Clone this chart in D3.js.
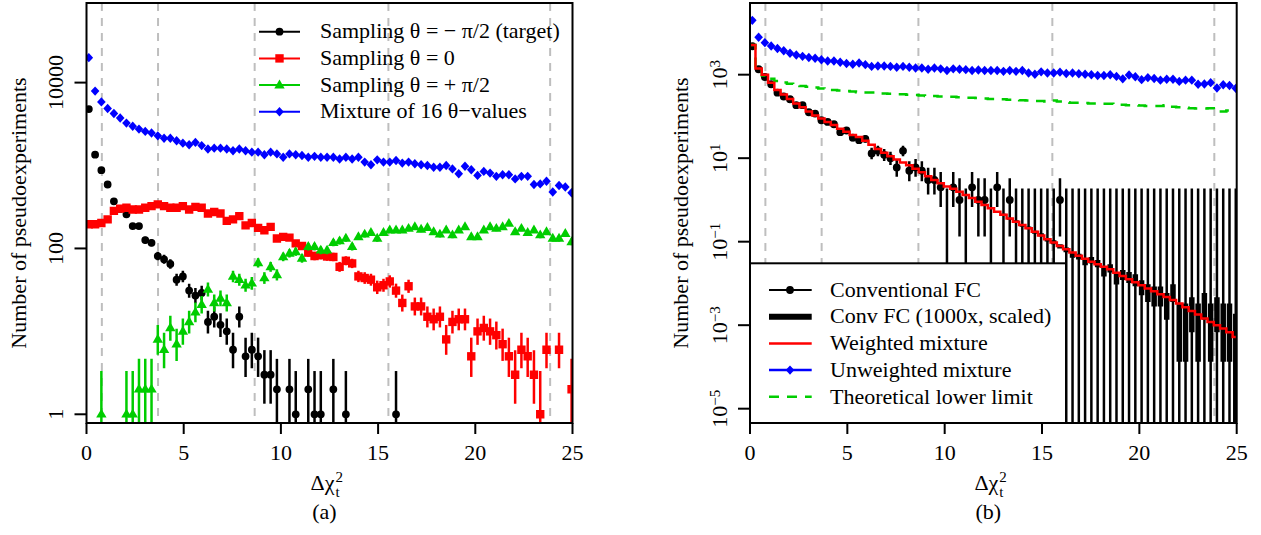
<!DOCTYPE html>
<html>
<head>
<meta charset="utf-8">
<script src="https://cdn.jsdelivr.net/npm/d3@7"></script>
<style>
body { margin: 0; background: #fff; }
svg text { font-family: "Liberation Serif", Tinos, "Times New Roman", Times, "DejaVu Serif", serif; font-size: 22px; fill: #000; }
</style>
</head>
<body>
<figure style="margin:0"></figure>
<script>
// bins of delta chi^2 (same binning in both panels)
const binWidth = 0.3225, firstCenter = 0.12, nBins = 78
const binCenters = d3.range(nBins).map(k => firstCenter + k * binWidth)
const xTicks = [0, 5, 10, 15, 20, 25]
const criticalLines = [0.79, 3.68, 8.65, 15.53, 23.85]
const leftYTicks = [1, 100, 10000]
const rightYExponents = [-5, -3, -1, 1, 3]

// (a) counts per bin
const targetCounts = [4800,1350,880,590,370,300,258,186,186,126,
    117,81,74,65,42,46,31,27,29,13,
    15,12,10,6,15,5,6,5,3,3,
    2,0,2,1,0,2,1,1,0,2,
    0,1,0,0,0,0,0,0,0,1,
    0,0,0,0,0,0,0,0,0,0,
    0,0,0,0,0,0,0,0,0,0,
    0,0,0,0,0,0,0,0]
const zeroCounts = [196,196,203,224,284,302,310,295,295,310,
    324,340,324,310,310,324,295,317,310,264,
    275,264,215,224,245,190,203,177,166,182,
    132,138,135,115,107,89,81,83,80,79,
    60,71,66,46,44,42,34,36,40,31,
    22,35,20,20,15,14,15,8,13,14,
    14,5,10,11,10,9,7,5,3,6,
    5,3,1,6,0,6,0,2]
const plusCounts = [0,0,1,0,0,0,1,1,2,2,
    2,8,6,11,7,10,13,17,21,32,
    22,25,22,46,42,36,38,67,44,60,
    48,79,87,91,76,105,105,95,95,117,
    123,132,105,138,148,155,132,155,166,166,
    166,174,182,170,178,158,148,166,145,166,
    182,138,138,166,182,174,182,200,158,174,
    155,166,145,158,132,132,151,120]
const mixtureCounts = [20000,7900,5850,4870,4240,3740,3250,2970,2750,2580,
    2470,2280,2130,2130,1990,1860,1780,1900,1740,1580,
    1620,1620,1580,1510,1580,1510,1450,1450,1350,1450,
    1380,1260,1380,1350,1320,1260,1290,1260,1260,1260,
    1200,1260,1200,1260,1100,1020,1170,1100,1100,1150,
    1070,1100,1050,1020,1000,955,955,1000,910,795,
    980,890,760,850,810,740,775,775,690,740,
    740,590,600,645,480,575,550,470]

// (b) extra series
const weightedMixture = [5130,1413,1000,640,430,335,262,205,166,132,
    105,89,74,62,51,43,36,32,26,21,
    16.6,13.5,11.2,9.3,7.9,6.8,5.6,4.6,3.7,3.0,
    2.5,2.1,1.86,1.58,1.32,1.12,0.91,0.76,0.63,0.52,
    0.44,0.36,0.30,0.25,0.21,0.174,0.141,0.115,0.095,0.079,
    0.066,0.055,0.046,0.039,0.033,0.029,0.025,0.022,0.018,0.015,
    0.0126,0.0107,0.0091,0.0076,0.0065,0.0055,0.0047,0.0040,0.0033,0.0027,
    0.0022,0.0018,0.00145,0.0012,0.0010,0.00083,0.00068,0.00052]
const convFC1000 = [5125,1418,1002,645,428,337,259,207,168,130,
    106,88.4,74.6,61.3,51.6,42.6,36.4,31.4,25.7,21.2,
    16.4,13.6,11.0,9.42,7.85,6.74,5.68,4.52,3.76,2.96,
    2.52,2.08,1.87,1.55,1.34,1.10,0.925,0.748,0.641,0.508,
    0.447,0.352,0.306,0.243,0.214,0.168,0.146,0.111,0.097,0.077,
    0.064,0.048,0.044,0.033,0.036,0.030,0.019,0.023,0.013,0.016,
    0.014,0.012,0.008,0.006,0.005,0.005,0.003,0.006,0.001,0.001,
    0.002,0.001,0.003,0.001,0.002,0.001,0.001,0]
const lowerLimit = [5130,1413,955,794,708,646,603,562,537,513,
    490,468,447,427,417,407,398,380,372,372,
    363,355,347,339,339,331,324,316,309,309,
    302,295,295,288,282,282,275,269,263,263,
    257,251,251,245,240,234,234,229,240,229,
    219,214,214,209,204,204,200,200,195,191,
    186,186,182,178,178,178,186,170,166,162,
    158,155,155,158,132,132,138,141]

const legendA = ["Sampling θ = − π/2 (target)", "Sampling θ = 0", "Sampling θ = + π/2", "Mixture of 16 θ−values"]
const legendB = ["Conventional FC", "Conv FC (1000x, scaled)", "Weighted mixture", "Unweighted mixture", "Theoretical lower limit"]

const RED = "#ff0000", GREEN = "#00cd00", BLUE = "#0000ff", GREY = "#bebebe"
const FONT = '"Liberation Serif", Tinos, "Times New Roman", Times, "DejaVu Serif", serif'
const shapes = {
    circle: "M3.9,0A3.9,3.9,0,1,1,-3.9,0A3.9,3.9,0,1,1,3.9,0Z",
    square: "M-4.2,-4.2H4.2V4.2H-4.2Z",
    triangle: "M0,-5.6L5.2,3.3L-5.2,3.3Z",
    diamond: "M0,-4.7L4.3,0L0,4.7L-4.3,0Z"
}

// approximate Garwood 68% interval
const errLo = n => n <= 0 ? 0 : n - Math.sqrt(n - 0.25)
const errHi = n => n + 1 + Math.sqrt(n + 0.75)

const svg = d3.select("figure").append("svg")
    .attr("width", 1261).attr("height", 535).attr("viewBox", "0 0 1261 535")
    .attr("font-family", FONT).attr("font-size", 22)

function makePanel(id, x0, x1, yDomain) {
    const top = 3, bottom = 423
    const x = d3.scaleLinear().domain([0, 25]).range([x0, x1])
    const y = d3.scaleLog().domain(yDomain).range([bottom, top])
    svg.append("clipPath").attr("id", id).append("rect")
        .attr("x", x0).attr("y", top).attr("width", x1 - x0).attr("height", bottom - top)
    const g = svg.append("g")
    const plot = g.append("g").attr("clip-path", `url(#${id})`)
    const yv = v => v <= 0 ? bottom + 20 : y(v)

    plot.append("g").selectAll("line").data(criticalLines).join("line")
        .attr("x1", d => x(d)).attr("x2", d => x(d)).attr("y1", top).attr("y2", bottom)
        .attr("stroke", GREY).attr("stroke-width", 2).attr("stroke-dasharray", "8,7")

    // x axis
    g.append("g").selectAll("line").data(xTicks).join("line")
        .attr("x1", d => x(d)).attr("x2", d => x(d)).attr("y1", bottom).attr("y2", bottom + 11)
        .attr("stroke", "#000").attr("stroke-width", 2)
    g.append("g").selectAll("text").data(xTicks).join("text")
        .attr("x", d => x(d)).attr("y", 460).attr("text-anchor", "middle").text(d => d)

    const cx = (x0 + x1) / 2
    g.append("text").attr("x", cx + 5).attr("y", 490).attr("text-anchor", "end").text("Δχ")
    g.append("text").attr("x", cx + 6).attr("y", 482).style("font-size", "15px").text("2")
    g.append("text").attr("x", cx + 6).attr("y", 497).style("font-size", "15px").text("t")
    g.append("text").attr("x", cx - 5).attr("y", 519).attr("text-anchor", "middle").text(id == "clipA" ? "(a)" : "(b)")

    return {g, plot, x, y, yv, x0, x1, top, bottom}
}

function errorBars(p, counts, color, opts = {}) {
    const scale = opts.scale || 1
    const data = binCenters.map((c, k) => ({c, n: Math.round(counts[k] * scale)}))
        .filter(d => opts.withZero || d.n > 0)
    p.plot.append("g").selectAll("line").data(data).join("line")
        .attr("x1", d => p.x(d.c)).attr("x2", d => p.x(d.c))
        .attr("y1", d => p.yv(errLo(d.n) / scale)).attr("y2", d => p.y(errHi(d.n) / scale))
        .attr("stroke", color).attr("stroke-width", opts.width || 2.5)
}

function points(p, counts, color, shape) {
    const data = binCenters.map((c, k) => ({c, v: counts[k]})).filter(d => d.v > 0)
    p.plot.append("g").selectAll("path").data(data).join("path")
        .attr("d", shapes[shape]).attr("fill", color)
        .attr("transform", d => `translate(${p.x(d.c)},${p.y(d.v)})`)
}

function stepLine(p, values, color, width, dash) {
    const pts = []
    binCenters.forEach((c, k) => {
        pts.push([k == 0 ? 0 : c - binWidth / 2, values[k]])
        pts.push([Math.min(25, c + binWidth / 2), values[k]])
    })
    p.plot.append("path").datum(pts)
        .attr("d", d3.line().x(d => p.x(d[0])).y(d => p.y(d[1])))
        .attr("fill", "none").attr("stroke", color).attr("stroke-width", width)
        .attr("stroke-dasharray", dash || null)
}

function box(p) {
    p.g.append("rect").attr("x", p.x0).attr("y", p.top)
        .attr("width", p.x1 - p.x0).attr("height", p.bottom - p.top)
        .attr("fill", "none").attr("stroke", "#000").attr("stroke-width", 2)
}

// ---------- panel (a)
const A = makePanel("clipA", 86.5, 572.5, [0.785, 91200])
const seriesA = [
    {counts: targetCounts, color: "#000", shape: "circle"},
    {counts: zeroCounts, color: RED, shape: "square"},
    {counts: plusCounts, color: GREEN, shape: "triangle"},
    {counts: mixtureCounts, color: BLUE, shape: "diamond"}
]
seriesA.forEach(s => { errorBars(A, s.counts, s.color); points(A, s.counts, s.color, s.shape) })

A.g.append("g").selectAll("line").data(leftYTicks).join("line")
    .attr("x1", A.x0 - 12).attr("x2", A.x0).attr("y1", d => A.y(d)).attr("y2", d => A.y(d))
    .attr("stroke", "#000").attr("stroke-width", 2)
A.g.append("g").selectAll("text").data(leftYTicks).join("text")
    .attr("transform", d => `translate(63,${A.y(d)}) rotate(-90)`)
    .attr("text-anchor", "middle").text(d => d)
A.g.append("text").attr("transform", "translate(26,213) rotate(-90)")
    .attr("text-anchor", "middle").text("Number of pseudoexperiments")
box(A)

const legA = A.g.append("g").selectAll("g").data(seriesA).join("g")
    .attr("transform", (d, i) => `translate(0,${31.7 + i * 26.7})`)
legA.append("line").attr("x1", 259).attr("x2", 300).attr("stroke", d => d.color).attr("stroke-width", 2)
legA.append("path").attr("d", d => shapes[d.shape]).attr("fill", d => d.color)
    .attr("transform", "translate(279.5,0)")
legA.append("text").attr("x", 320).attr("y", 6.5).text((d, i) => legendA[i])

// ---------- panel (b)
const B = makePanel("clipB", 750, 1236.7, [4.54e-6, 52100])
errorBars(B, convFC1000, "#000", {scale: 1000, withZero: true, width: 5.5})
errorBars(B, targetCounts, "#000", {withZero: true})
points(B, targetCounts, "#000", "circle")
stepLine(B, lowerLimit, GREEN, 2.5, "10,8")
stepLine(B, weightedMixture, RED, 2.5)
errorBars(B, mixtureCounts, BLUE)
points(B, mixtureCounts, BLUE, "diamond")

B.g.append("g").selectAll("line").data(rightYExponents).join("line")
    .attr("x1", B.x0 - 12).attr("x2", B.x0)
    .attr("y1", d => B.y(Math.pow(10, d))).attr("y2", d => B.y(Math.pow(10, d)))
    .attr("stroke", "#000").attr("stroke-width", 2)
const yLabB = B.g.append("g").selectAll("text").data(rightYExponents).join("text")
    .attr("transform", d => `translate(727,${B.y(Math.pow(10, d))}) rotate(-90)`)
    .attr("text-anchor", "middle")
yLabB.append("tspan").text("10")
yLabB.append("tspan").attr("dy", "-0.45em").style("font-size", "15px").text(d => d < 0 ? "−" + (-d) : d)
B.g.append("text").attr("transform", "translate(688,213) rotate(-90)")
    .attr("text-anchor", "middle").text("Number of pseudoexperiments")

// legend (b), white box over the data
const legB = B.g.append("g")
legB.append("rect").attr("x", 750).attr("y", 263.3).attr("width", 316).attr("height", 423 - 263.3)
    .attr("fill", "#fff").attr("stroke", "#000").attr("stroke-width", 2)
const legBItems = [
    {color: "#000", width: 2, shape: "circle"},
    {color: "#000", width: 6},
    {color: RED, width: 2.5},
    {color: BLUE, width: 2.5, shape: "diamond"},
    {color: GREEN, width: 2.5, dash: "10,8"}
]
const legBRows = legB.selectAll("g").data(legBItems).join("g")
    .attr("transform", (d, i) => `translate(0,${290 + i * 26.7})`)
legBRows.append("line").attr("x1", 769).attr("x2", 811.7)
    .attr("stroke", d => d.color).attr("stroke-width", d => d.width)
    .attr("stroke-dasharray", d => d.dash || null)
legBRows.filter(d => d.shape).append("path").attr("d", d => shapes[d.shape]).attr("fill", d => d.color)
    .attr("transform", "translate(790,0)")
legBRows.append("text").attr("x", 830).attr("y", 6.7).text((d, i) => legendB[i])
box(B)
</script>
</body>
</html>
